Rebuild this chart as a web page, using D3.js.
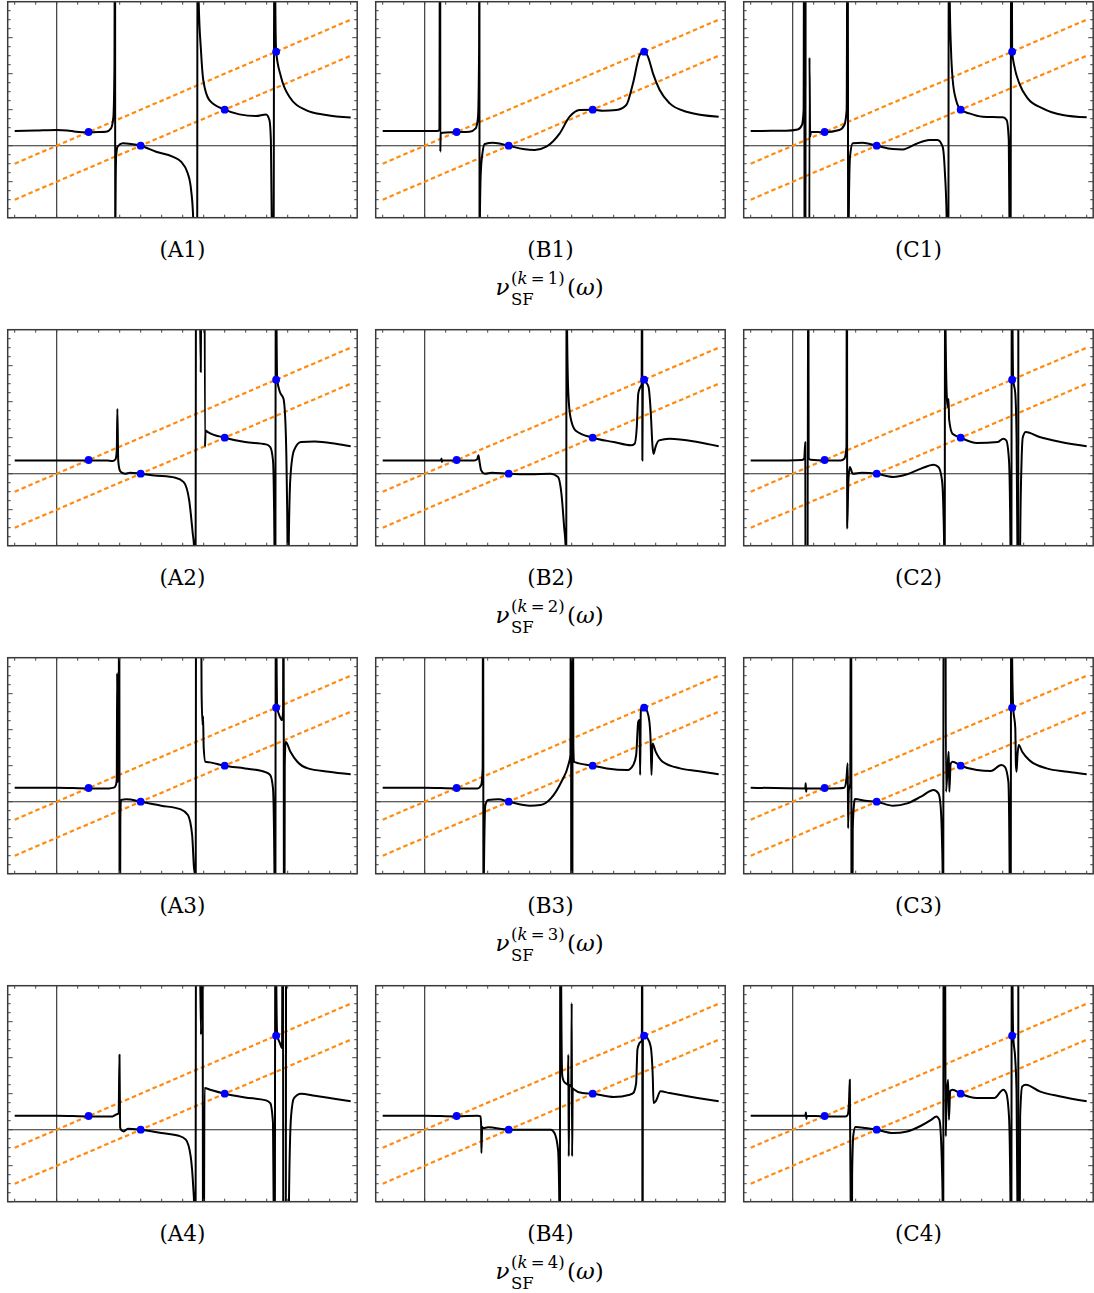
<!DOCTYPE html>
<html><head><meta charset="utf-8">
<script src="https://cdn.jsdelivr.net/npm/d3@7"></script>
<style>body{margin:0;background:#fff}svg{display:block}</style>
</head><body>
<svg id="chart" width="1094" height="1293"></svg>
<script>
// ---------------- data ----------------
const columns = ["A", "B", "C"];
const rowsK = [1, 2, 3, 4];
const xTicks = d3.range(-2, 15);        // -2 … 14
const yTicks = d3.range(-8, 17);        // -8 … 16
const lineXs = [-2, 14];                // extent of the dashed lines
const lineOffsets = [0, 4];             // dashed lines: y = x - offset
const dotsX = [1.52, 4, 8, 10.45];
const dotsY = [1.52, 0, 4, 10.45];

const curveA1 = [
 [[-2,1.63],[-1,1.68],[0,1.74],[0.5,1.7],[0.92,1.56],[1.52,1.5],[2.0,1.52],[2.35,1.55],[2.59,1.93],[2.7,3.2],[2.75,8.8],[2.78,40],[2.79,-40],[2.8,-8],[2.83,-1.2],[2.9,-0.1],[3.14,0.26],[3.54,0.19],[4,0],[4.73,-0.67],[5.52,-1.22],[5.92,-1.78],[6.24,-3.07],[6.4,-4.9],[6.5,-8.07],[6.68,-40],[6.71,40],[6.76,16.2],[6.87,10.6],[6.98,7.3],[7.27,5.07],[8,4],[8.7,3.48],[9.49,3.3],[9.97,3.48],[10.13,2.85],[10.2,0.63],[10.24,-8],[10.3,-40],[10.38,40],[10.41,16.2],[10.45,10.45],[10.68,7.67],[11.08,5.44],[11.87,3.96],[12.83,3.41],[14,3.12]]
];
const curveB1 = [
 [[-2,1.63],[0,1.63],[0.6,1.63],[0.7,1.75],[0.735,40],[0.745,-0.67],[0.76,1.3],[0.85,1.45],[1.51,1.5],[2.14,1.56],[2.43,1.93],[2.54,3.2],[2.59,10.6],[2.605,40],[2.615,-40],[2.63,-8],[2.67,-3.07],[2.75,-0.85],[2.86,0.19],[3.25,0.33],[4,0],[4.68,-0.37],[5.24,-0.48],[5.79,-0.11],[6.43,1.37],[6.9,3.22],[7.38,3.96],[8,4],[8.49,3.89],[9.13,3.96],[9.6,4.52],[9.92,6.93],[10.24,10.07],[10.45,10.5],[10.63,9.89],[10.87,8.04],[11.19,6.19],[11.67,4.7],[12.46,3.78],[14,3.22]]
];
const curveC1 = [
 [[-2,1.63],[-1,1.65],[-0.32,1.67],[0.24,1.81],[0.44,2.3],[0.52,3.96],[0.55,40],[0.57,-40]],
 [[0.6,-40],[0.62,40]],
 [[0.78,-40],[0.8,9.81],[0.83,1.0],[0.87,1.55],[1.52,1.5],[2.22,1.74],[2.46,2.3],[2.57,3.96],[2.62,40],[2.65,-40],[2.67,-8],[2.73,-1.22],[2.86,0.26],[3.33,0.33],[4,0],[4.76,-0.37],[5.24,-0.41],[5.87,0.19],[6.51,0.63],[6.9,0.63],[7.14,-0.11],[7.25,-3.07],[7.33,-8],[7.4,-40],[7.44,40],[7.48,16.2],[7.54,10.6],[7.62,7.3],[7.78,5.07],[8,4],[8.41,3.59],[9.05,3.22],[10,3.15],[10.19,2.85],[10.29,0.63],[10.32,-8],[10.36,-40],[10.41,40],[10.45,10.45],[10.56,8.78],[10.79,6.93],[11.19,5.26],[11.9,4.15],[12.86,3.41],[14,3.15]]
];
const curveA2 = [
 [[-2,1.48],[0,1.48],[1.56,1.48],[2.4,1.46],[2.66,1.41],[2.8,1.6],[2.86,2.5],[2.89,7.2],[2.93,1.5],[3.0,0.4],[3.06,0.19],[3.26,0],[3.49,0.11],[4,0],[4.65,-0.19],[5.65,-0.44],[6.05,-0.93],[6.31,-2.96],[6.48,-6.67],[6.54,-8.1],[6.6,-40],[6.64,40]],
 [[6.78,40],[6.86,11.3],[6.94,40]],
 [[7.03,40],[7.06,3.0],[7.09,4.8],[7.2,4.63],[8,4],[8.97,3.52],[9.97,3.26],[10.17,2.96],[10.3,1.48],[10.37,-8.1],[10.4,-40],[10.44,40],[10.47,16.3],[10.5,10.48],[10.63,9.07],[10.8,8.33],[10.9,5.19],[10.96,-1.48],[10.99,-8.1],[11.02,-40],[11.05,-8.1],[11.13,-0.37],[11.3,2.59],[11.63,3.52],[12.29,3.59],[13.29,3.33],[14,3.04]]
];
const curveB2 = [
 [[-2,1.48],[0,1.48],[0.78,1.48],[0.8,1.7],[0.82,1.3],[0.84,1.48],[1.53,1.48],[2.36,1.48],[2.5,1.6],[2.56,2.04],[2.62,1.2],[2.69,0.37],[2.86,0],[3.19,0.11],[3.95,0],[5.02,-0.07],[6.01,0],[6.35,-0.37],[6.51,-2.2],[6.64,-5.9],[6.71,-8.1],[6.73,-40],[6.76,40],[6.78,16.3],[6.84,8.9],[6.94,6.3],[7.18,4.81],[8,4],[9.0,3.52],[9.83,3.15],[10.0,3.33],[10.1,5.19],[10.17,8.9],[10.27,9.63],[10.33,9.9],[10.355,40],[10.365,1.48],[10.39,10.3],[10.45,10.48],[10.53,10.19],[10.66,9.63],[10.76,7.04],[10.85,3.0],[10.9,2.2],[10.99,2.96],[11.16,3.7],[11.66,3.89],[12.99,3.52],[14,3.04]]
];
const curveC2 = [
 [[-2,1.48],[-0.2,1.48],[0.45,1.52],[0.55,1.7],[0.6,3.5],[0.63,-40]],
 [[0.7,-40],[0.74,40],[0.76,1.7],[0.85,1.55],[1.53,1.48],[2.29,1.48],[2.46,1.67],[2.56,2.96],[2.585,40],[2.595,-6.1],[2.65,-1],[2.72,0.74],[2.86,0],[3.29,0.11],[4,0],[4.78,-0.37],[5.45,-0.07],[6.11,0.56],[6.71,1],[6.94,0.74],[7.11,-0.74],[7.18,-4.4],[7.21,-8.1],[7.23,-40],[7.26,40],[7.28,16.3],[7.34,8.5],[7.38,7.4],[7.42,8.3],[7.45,6],[7.61,4.44],[8,4],[8.77,3.41],[9.77,3.52],[10.03,3.89],[10.17,3.7],[10.3,1.48],[10.37,-8.1],[10.4,-40],[10.44,40],[10.47,16.3],[10.5,10.48],[10.6,8.9],[10.66,4.07],[10.7,-8.1],[10.72,-40]],
 [[10.74,-40],[10.745,40]],
 [[10.78,-40],[10.83,-8.1],[10.9,1.48],[10.96,4.07],[11.1,4.63],[11.76,4.07],[12.76,3.52],[14,3.04]]
];
const curveA3 = [
 [[-2,1.56],[0,1.56],[1.56,1.48],[2.49,1.48],[2.72,1.56],[2.82,1.85],[2.86,2.5],[2.88,14.3],[2.9,2.2],[2.95,3],[2.98,40],[3.0,-40],[3.03,-2],[3.06,0.19],[3.32,0.26],[4,0],[4.98,-0.44],[5.91,-0.85],[6.25,-1.48],[6.45,-3.7],[6.54,-7.4],[6.58,-8.1],[6.61,-40],[6.64,40]],
 [[6.84,40],[6.9,12],[6.95,8.5],[6.97,9.5],[7.0,6],[7.08,4.44],[7.31,4.37],[8,4],[8.97,3.7],[9.97,3.26],[10.17,2.96],[10.3,1.48],[10.37,-8.1],[10.4,-40],[10.44,40],[10.47,16.3],[10.5,10.48],[10.63,9.44],[10.73,9.07],[10.78,10],[10.8,40],[10.83,-40],[10.86,4],[10.9,6.67],[11.13,5.56],[11.46,4.44],[11.96,3.7],[12.96,3.33],[14,3.04]]
];
const curveB3 = [
 [[-2,1.56],[0,1.56],[1.53,1.48],[2.52,1.48],[2.69,1.85],[2.76,3.7],[2.785,40],[2.8,-40],[2.82,-8.1],[2.89,-0.37],[3.02,0.19],[3.52,0.26],[4,0],[5.02,-0.44],[5.51,-0.37],[6.01,0.37],[6.51,2.22],[6.84,4.07],[6.94,5.19],[6.965,40],[6.985,-40]],
 [[7.03,-40],[7.05,40],[7.08,6],[7.11,4.44],[7.34,4.26],[8,4],[8.67,3.7],[9.67,3.52],[9.93,4.07],[10.07,5.19],[10.17,8.9],[10.23,9.07],[10.26,2.96],[10.29,10],[10.33,10.37],[10.45,10.48],[10.6,10],[10.7,8.9],[10.76,6.67],[10.8,2.96],[10.85,6.48],[11,5.56],[11.33,4.44],[12.16,3.7],[12.99,3.41],[14,3.04]]
];
const curveC3 = [
 [[-2,1.56],[0.6,1.48],[0.62,2.04],[0.64,1.1],[0.66,1.48],[1.53,1.48],[2.2,1.5],[2.46,1.56],[2.56,2.59],[2.62,4.26],[2.64,-2.96],[2.67,1.2],[2.74,2],[2.78,40],[2.81,-40],[2.86,-3],[2.92,-0.3],[2.96,0.3],[3.46,0.11],[4,0],[4.78,-0.44],[5.45,-0.19],[6.11,0.56],[6.71,1.3],[6.94,0.93],[7.04,-0.37],[7.11,-4.4],[7.14,-8.1],[7.16,-40],[7.19,40],[7.26,40],[7.3,1.1],[7.38,4],[7.43,5.56],[7.46,1.1],[7.52,4.2],[7.61,4.44],[8,4],[8.77,3.52],[9.44,3.41],[9.93,4.07],[10.1,3.89],[10.27,2.22],[10.33,-8.1],[10.37,-40],[10.41,40],[10.45,16],[10.5,10.48],[10.6,8.15],[10.63,4.07],[10.66,3.33],[10.7,5],[10.76,6.3],[10.93,5.56],[11.26,4.63],[12.09,3.7],[13.09,3.33],[14,3.04]]
];
const curveA4 = [
 [[-2,1.56],[0,1.56],[1.56,1.48],[2.66,1.48],[2.82,1.67],[2.95,1.8],[2.99,8.33],[3.02,0.3],[3.06,0],[3.19,-0.19],[3.39,0.11],[4,0],[4.98,-0.37],[5.81,-0.67],[6.15,-1.11],[6.38,-2.96],[6.51,-6.67],[6.54,-8.1],[6.6,-40],[6.64,40]],
 [[6.78,40],[6.87,10.56],[6.94,40],[6.98,-40],[7.04,4.63],[7.31,4.44],[8,4],[8.97,3.59],[9.97,3.26],[10.17,2.96],[10.3,0.74],[10.33,-8.1],[10.37,-40],[10.42,40],[10.46,16],[10.5,10.48],[10.63,9.63],[10.73,9.07],[10.77,40],[10.8,-40]],
 [[10.9,-40],[10.93,40]],
 [[10.98,-40],[11.06,-8.1],[11.16,1.48],[11.3,3.52],[11.63,4],[12.29,3.78],[13.29,3.41],[14,3.15]]
];
const curveB4 = [
 [[-2,1.56],[0,1.56],[1.53,1.48],[2.52,1.56],[2.66,1.48],[2.69,0.37],[2.7,-2.6],[2.74,0.3],[2.79,0.19],[3.02,0.26],[4,0],[5.02,0],[6.01,0],[6.18,-0.37],[6.35,-2.22],[6.41,-8.1],[6.43,-40],[6.46,40],[6.5,16],[6.55,6],[6.62,5.4],[6.75,5.1],[6.82,5],[6.84,8.33],[6.86,-2.96],[6.89,5],[6.98,4.8],[7.0,14.07],[7.02,-2.96],[7.05,4.6],[7.08,4.52],[7.51,4.07],[8,4],[9,3.63],[9.77,3.89],[9.93,4.07],[10.07,5.19],[10.13,8.9],[10.23,9.63],[10.34,9.9],[10.36,40],[10.37,-40],[10.39,9.9],[10.45,10.48],[10.6,10.19],[10.76,9.26],[10.86,5.93],[10.9,2.96],[11,3.15],[11.23,4.26],[11.66,4.07],[12.99,3.52],[14,3.15]]
];
const curveC4 = [
 [[-2,1.56],[0.6,1.56],[0.63,1.9],[0.65,1.2],[0.67,1.56],[1.53,1.48],[2.52,1.48],[2.62,1.67],[2.68,3],[2.72,5.56],[2.76,-8.1],[2.78,-40],[2.8,-40],[2.83,-5],[2.89,-0.56],[2.99,0.3],[3.46,0.19],[4,0],[4.78,-0.37],[5.45,-0.19],[6.11,0.44],[6.61,1.11],[6.84,1.48],[6.98,1.11],[7.04,0],[7.11,-4.4],[7.14,-8.1],[7.16,-40],[7.19,40],[7.24,40],[7.27,8.9],[7.29,-0.74],[7.32,3],[7.4,5.56],[7.44,1.1],[7.5,4.3],[7.61,4.44],[8,4],[8.77,3.52],[9.6,3.52],[10.03,4.44],[10.17,4.07],[10.3,1.48],[10.37,-8.1],[10.4,-40],[10.44,40],[10.47,16],[10.5,10.48],[10.6,7.78],[10.66,4.07],[10.7,-8.1],[10.72,-40]],
 [[10.74,-40],[10.745,40]],
 [[10.78,-40],[10.83,1.48],[10.93,4.81],[11.1,5],[11.76,4.26],[12.76,3.7],[14,3.15]]
];
const curves = {
  A1: curveA1, B1: curveB1, C1: curveC1,
  A2: curveA2, B2: curveB2, C2: curveC2,
  A3: curveA3, B3: curveB3, C3: curveC3,
  A4: curveA4, B4: curveB4, C4: curveC4
};

// ---------------- layout ----------------
const panelLefts = [7.7, 375.7, 743.7];
const panelW = 349.5, panelH = 216;
const top0 = 1.7, rowStep = 328;
const xDomain = [-2.333, 14.31], yDomain = [-8, 16];
const FONT = "'DejaVu Serif', 'Liberation Serif', serif";

const svg = d3.select("#chart");
const defs = svg.append("defs");

rowsK.forEach((k, r) => {
  const T = top0 + r * rowStep;
  columns.forEach((col, c) => {
    const id = col + k;
    const L = panelLefts[c];
    const x = d3.scaleLinear().domain(xDomain).range([L, L + panelW]);
    const y = d3.scaleLinear().domain(yDomain).range([T + panelH, T]);
    defs.append("clipPath").attr("id", "clip" + id)
      .append("rect").attr("x", L).attr("y", T).attr("width", panelW).attr("height", panelH);
    const g = svg.append("g");
    const gc = g.append("g").attr("clip-path", `url(#clip${id})`);

    // axes lines through origin
    gc.append("line").attr("x1", x(0)).attr("x2", x(0)).attr("y1", T).attr("y2", T + panelH)
      .attr("stroke", "#2a2a2a").attr("stroke-width", 1.1);
    gc.append("line").attr("x1", L).attr("x2", L + panelW).attr("y1", y(0)).attr("y2", y(0))
      .attr("stroke", "#2a2a2a").attr("stroke-width", 1.1);

    // dashed lines
    const lineGen = d3.line().x(d => x(d[0])).y(d => y(d[1]));
    lineOffsets.forEach(off => {
      gc.append("path").datum(lineXs.map(v => [v, v - off]))
        .attr("d", lineGen).attr("fill", "none")
        .attr("stroke", "#ff8a10").attr("stroke-width", 2.2)
        .attr("stroke-dasharray", "4.5,3");
    });

    // curve
    const curveGen = d3.line().x(d => x(d[0])).y(d => y(d[1])).curve(d3.curveMonotoneX);
    curves[id].forEach(seg => {
      gc.append("path").datum(seg).attr("d", curveGen)
        .attr("fill", "none").attr("stroke", "#000").attr("stroke-width", 2)
        .attr("stroke-linejoin", "round");
    });

    // dots
    g.selectAll("circle.dot").data(dotsX.map((v, i) => [v, dotsY[i]])).join("circle")
      .attr("class", "dot").attr("cx", d => x(d[0])).attr("cy", d => y(d[1]))
      .attr("r", 3.9).attr("fill", "#0000ff");

    // ticks
    const tk = g.append("g").attr("stroke", "#444").attr("stroke-width", 1);
    xTicks.forEach(t => {
      tk.append("line").attr("x1", x(t)).attr("x2", x(t)).attr("y1", T + panelH).attr("y2", T + panelH - 3);
      tk.append("line").attr("x1", x(t)).attr("x2", x(t)).attr("y1", T).attr("y2", T + 3);
    });
    yTicks.forEach(t => {
      const len = (t % 4 === 0) ? 5 : 3;
      tk.append("line").attr("x1", L).attr("x2", L + len).attr("y1", y(t)).attr("y2", y(t));
      tk.append("line").attr("x1", L + panelW).attr("x2", L + panelW - len).attr("y1", y(t)).attr("y2", y(t));
    });

    // frame
    g.append("rect").attr("x", L).attr("y", T).attr("width", panelW).attr("height", panelH)
      .attr("fill", "none").attr("stroke", "#3a3a3a").attr("stroke-width", 1.5);

    // panel label
    svg.append("text").attr("x", L + panelW / 2).attr("y", T + 254.8)
      .attr("text-anchor", "middle").attr("font-family", FONT).attr("font-size", 21.5)
      .attr("fill", "#000").text(`(${id})`);
  });

  // row title  ν_SF^(k=n)(ω)
  const cx = panelLefts[1] + panelW / 2;
  const base = T + 293.5;
  const tg = svg.append("g").attr("font-family", FONT).attr("fill", "#000");
  tg.append("text").attr("x", cx - 55).attr("y", base).attr("font-size", 23)
    .attr("font-style", "italic").text("ν");
  const sup = tg.append("text").attr("x", cx - 39.5).attr("y", base - 11).attr("font-size", 16.5);
  sup.append("tspan").text("(");
  sup.append("tspan").attr("font-style", "italic").text("k");
  sup.append("tspan").text("\u2009=\u2009" + k + ")");
  tg.append("text").attr("x", cx - 39.5).attr("y", base + 9.5).attr("font-size", 16.5).text("SF");
  const om = tg.append("text").attr("x", cx + 16.5).attr("y", base).attr("font-size", 23);
  om.append("tspan").text("(");
  om.append("tspan").attr("font-style", "italic").text("ω");
  om.append("tspan").text(")");
});
</script>
</body></html>
